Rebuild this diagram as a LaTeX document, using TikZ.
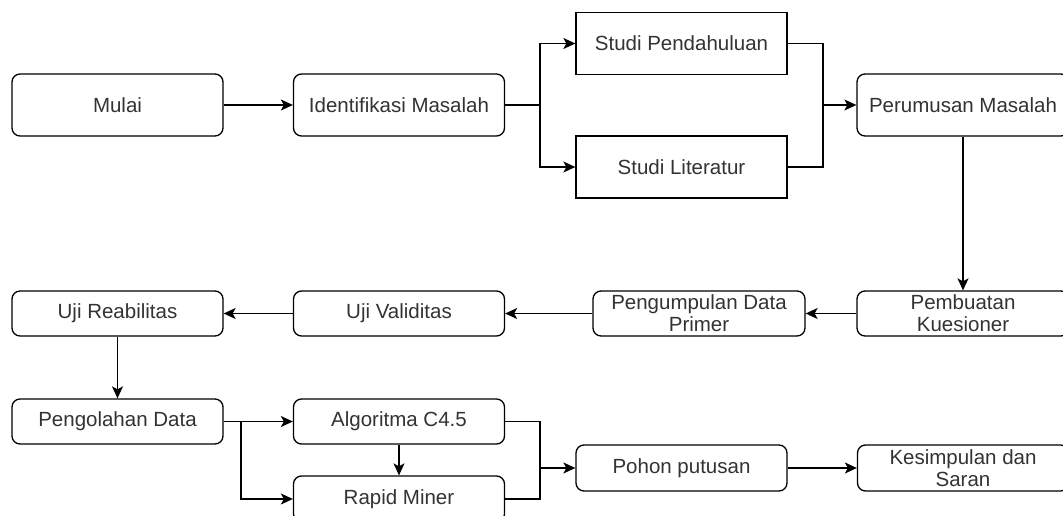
\documentclass[tikz,border=0pt]{standalone}
\usepackage{fontspec}
\setmainfont{Liberation Sans}
\usetikzlibrary{arrows.meta}
\definecolor{txt}{HTML}{333333}
\tikzset{
  box/.style={draw=black, line width=1.3pt, fill=white, rounded corners=8pt, minimum width=211pt, inner sep=0pt, align=center, text=txt, font=\fontsize{20.5}{22}\selectfont},
  sbox/.style={box, rounded corners=0pt},
  tall/.style={minimum height=62pt},
  low/.style={minimum height=45pt},
  conn/.style={line width=1.3pt, draw=black},
  arr/.style={conn, -{Stealth[length=12pt,width=11pt,inset=3pt]}}
}
\begin{document}
\begin{tikzpicture}[x=1pt,y=-1pt]
\useasboundingbox (0,0) rectangle (1063,516);
\clip (0,0) rectangle (1063,516);
% row 1
\node[box,tall] (mulai) at (117.5,105) {Mulai};
\node[box,tall] (ident) at (399,105) {Identifikasi Masalah};
\node[sbox,tall] (sp) at (681.5,43.5) {Studi Pendahuluan};
\node[sbox,tall] (sl) at (681.5,167) {Studi Literatur};
\node[box,tall,minimum width=212pt] (perum) at (963,105) {Perumusan Masalah};
% row 2
\node[box,low,minimum width=212pt] (pemb) at (963,313.5) {Pembuatan\\Kuesioner};
\node[box,low,minimum width=212pt] (pengump) at (699,313.5) {Pengumpulan Data\\Primer};
\node[box,low] (valid) at (399,313.5) {Uji Validitas};
\node[box,low] (reab) at (117.5,313.5) {Uji Reabilitas};
% row 3
\node[box,low] (pengol) at (117.5,421.5) {Pengolahan Data};
\node[box,low] (algo) at (399,421.5) {Algoritma C4.5};
\node[box,minimum height=46pt] (rapid) at (399,499) {Rapid Miner};
\node[box,minimum height=46pt] (pohon) at (681.5,468) {Pohon putusan};
\node[box,minimum height=46pt] (kesim) at (963,468) {Kesimpulan dan\\Saran};
% junction points
\coordinate (j1) at (540,105);
\coordinate (j2) at (823,105);
\coordinate (j3) at (241,421.5);
\coordinate (j4) at (540,468);
% connectors
\draw[arr] (mulai.east) -- (ident.west);
\draw[conn] (ident.east) -- (j1);
\draw[arr] (j1) |- (sp.west);
\draw[arr] (j1) |- (sl.west);
\draw[conn] (sp.east) -| (j2);
\draw[conn] (sl.east) -| (j2);
\draw[arr] (j2) -- (perum.west);
\draw[arr] (perum.south) -- (pemb.north);
\draw[arr] (pemb.west) -- (pengump.east);
\draw[arr] (pengump.west) -- (valid.east);
\draw[arr] (valid.west) -- (reab.east);
\draw[arr] (reab.south) -- (pengol.north);
\draw[conn] (pengol.east) -- (j3);
\draw[arr] (j3) -- (algo.west);
\draw[arr] (j3) |- (rapid.west);
\draw[arr] (algo.south) -- (rapid.north);
\draw[conn] (algo.east) -| (j4);
\draw[conn] (rapid.east) -| (j4);
\draw[arr] (j4) -- (pohon.west);
\draw[arr] (pohon.east) -- (kesim.west);
\end{tikzpicture}
\end{document}
